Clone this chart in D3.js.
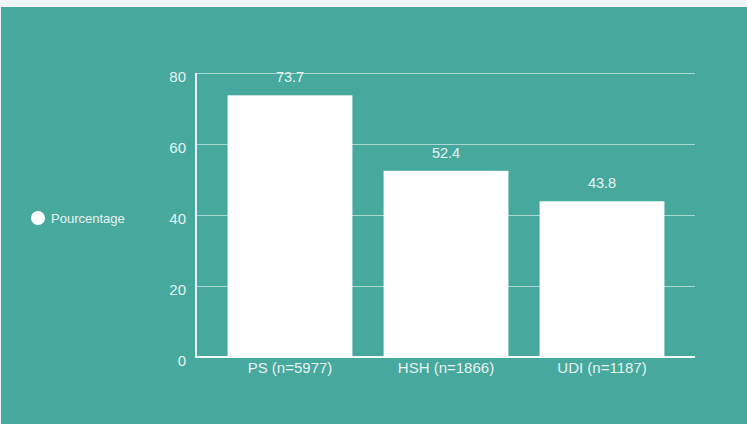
<!DOCTYPE html>
<html><head><meta charset="utf-8">
<script src="https://cdn.jsdelivr.net/npm/d3@7"></script>
<style>
html,body{margin:0;padding:0;background:#eff4f7;overflow:hidden;}
svg{position:absolute;left:1px;top:7px;}
text{font-family:"Liberation Sans",Arial,sans-serif;}
</style></head>
<body>
<script>
const categories = ["PS (n=5977)", "HSH (n=1866)", "UDI (n=1187)"];
const values = [73.7, 52.4, 43.8];
const yTicks = [0, 20, 40, 60, 80];
const seriesName = "Pourcentage";

const W = 746, H = 417;
const svg = d3.select("body").append("svg").attr("width", W).attr("height", H);
svg.append("rect").attr("width", W).attr("height", H).attr("fill", "#47a99e");

const g = svg.append("g").attr("transform", "translate(-1,-7)");
const x = d3.scaleBand().domain(categories).range([212, 680]).paddingInner(0.2).paddingOuter(0.1);
const y = d3.scaleLinear().domain([0, 80]).range([356.5, 73]);
const x0 = 195, x1 = 695;

// gridlines
g.selectAll(".grid").data(yTicks.filter(d => d > 0)).join("line")
  .attr("x1", x0).attr("x2", x1)
  .attr("y1", d => Math.round(y(d)) + 0.5).attr("y2", d => Math.round(y(d)) + 0.5)
  .attr("stroke", "#a9d6d0").attr("stroke-width", 1);

// bars
g.selectAll(".bar").data(values).join("rect")
  .attr("x", (d, i) => x(categories[i]))
  .attr("width", x.bandwidth())
  .attr("y", d => y(d))
  .attr("height", d => y(0) - y(d))
  .attr("fill", "#ffffff");

// axes lines
g.append("line").attr("x1", x0 + 1).attr("x2", x0 + 1).attr("y1", y(80)).attr("y2", y(0) + 1)
  .attr("stroke", "#e8f4f2").attr("stroke-width", 2);
g.append("line").attr("x1", x0).attr("x2", x1).attr("y1", y(0) + 0.5).attr("y2", y(0) + 0.5)
  .attr("stroke", "#f4faf9").attr("stroke-width", 2);

// y tick labels
g.selectAll(".ylab").data(yTicks).join("text")
  .attr("x", 186).attr("y", d => y(d) + 9)
  .attr("text-anchor", "end").attr("font-size", 15).attr("fill", "#e6f3f1")
  .text(d => d);

// x labels
g.selectAll(".xlab").data(categories).join("text")
  .attr("x", d => x(d) + x.bandwidth() / 2).attr("y", 373)
  .attr("text-anchor", "middle").attr("font-size", 15).attr("fill", "#e6f3f1")
  .text(d => d);

// value labels
g.selectAll(".vlab").data(values).join("text")
  .attr("x", (d, i) => x(categories[i]) + x.bandwidth() / 2)
  .attr("y", d => y(d) - 13)
  .attr("text-anchor", "middle").attr("font-size", 14.5).attr("fill", "#e6f3f1")
  .text(d => d.toFixed(1));

// legend
g.append("circle").attr("cx", 38).attr("cy", 218).attr("r", 7).attr("fill", "#ffffff");
g.append("text").attr("x", 51).attr("y", 223).attr("font-size", 13).attr("fill", "#e6f3f1").text(seriesName);
</script>
</body></html>
